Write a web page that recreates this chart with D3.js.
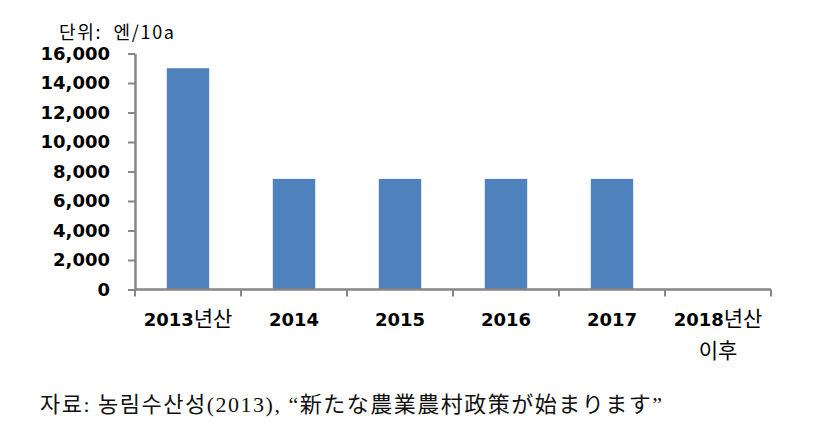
<!DOCTYPE html>
<html><head><meta charset="utf-8">
<script src="https://cdn.jsdelivr.net/npm/d3@7/dist/d3.min.js"></script>
<style>
html,body{margin:0;padding:0;background:#fff;}
svg{display:block;}
</style>
</head><body>
<svg id="chart" width="820" height="426"></svg>
<script>
const categories = ["2013", "2014", "2015", "2016", "2017", "2018"];
const categorySuffix = ["년산", "", "", "", "", "년산"];
const categorySecondLine = ["", "", "", "", "", "이후"];
const values = [15000, 7500, 7500, 7500, 7500, 0];
const yTicks = [0, 2000, 4000, 6000, 8000, 10000, 12000, 14000, 16000];
const unitLabel = "단위:  엔/10a";
const sourceLabel = "자료: 농림수산성(2013), “新たな農業農村政策が始まります”";

const svg = d3.select("#chart");
const axisColor = "#868686";
const barColor = "#4F81BD";

const x = d3.scaleBand().domain(categories).range([135, 771]).paddingInner(0.6).paddingOuter(0.3);
const y = d3.scaleLinear().domain([0, 16000]).range([289.5, 53.5]);

// bars
svg.append("g").selectAll("rect").data(values).join("rect")
  .attr("x", (d, i) => x(categories[i]))
  .attr("width", x.bandwidth())
  .attr("y", d => y(d))
  .attr("height", d => y(0) - y(d))
  .attr("fill", barColor);

// y axis
const yAxis = svg.append("g").attr("transform", "translate(135,0)")
  .call(d3.axisLeft(y).tickValues(yTicks).tickFormat(d3.format(",")).tickSize(7).tickSizeOuter(0).tickPadding(18));
yAxis.select(".domain").attr("stroke", axisColor).attr("stroke-width", 2.5);
yAxis.selectAll(".tick line").attr("stroke", axisColor).attr("stroke-width", 2);
yAxis.selectAll(".tick text").attr("fill", "#000")
  .style("font-family", "'DejaVu Sans', Verdana, sans-serif").style("font-weight", "bold").style("font-size", "18px");

// x axis (category boundaries)
const step = x.step();
const left = x.range()[0];
const boundaries = d3.range(categories.length + 1).map(i => left + i * step);
const xg = svg.append("g");
xg.append("line").attr("x1", left).attr("x2", x.range()[1]).attr("y1", y(0)).attr("y2", y(0))
  .attr("stroke", axisColor).attr("stroke-width", 2.5);
xg.selectAll("line.tick").data(boundaries).join("line").attr("class", "tick")
  .attr("x1", d => d).attr("x2", d => d).attr("y1", y(0)).attr("y2", y(0) + 7)
  .attr("stroke", axisColor).attr("stroke-width", 2);

const labels = xg.selectAll("text.cat").data(categories).join("text").attr("class", "cat")
  .attr("x", d => x(d) + x.bandwidth() / 2)
  .attr("y", 326)
  .attr("text-anchor", "middle")
  .attr("fill", "#000");
labels.append("tspan").text(d => d)
  .style("font-family", "'DejaVu Sans', Verdana, sans-serif").style("font-weight", "bold").style("font-size", "18px");
labels.append("tspan").text((d, i) => categorySuffix[i])
  .style("font-family", "'Noto Sans CJK KR', sans-serif").style("font-weight", "normal").style("font-size", "21px");
xg.selectAll("text.cat2").data(categories).join("text").attr("class", "cat2")
  .attr("x", d => x(d) + x.bandwidth() / 2)
  .attr("y", 358)
  .attr("text-anchor", "middle")
  .attr("fill", "#000")
  .style("font-family", "'Noto Sans CJK KR', sans-serif").style("font-size", "21px")
  .text((d, i) => categorySecondLine[i]);

// unit label
svg.append("text").attr("x", 59).attr("y", 39)
  .attr("fill", "#000")
  .attr("textLength", 115).attr("lengthAdjust", "spacing")
  .style("font-family", "'Noto Sans CJK KR', sans-serif").style("font-size", "18px")
  .style("white-space", "pre").attr("xml:space", "preserve")
  .text(unitLabel);

// source
svg.append("text").attr("x", 40).attr("y", 412)
  .attr("fill", "#111")
  .attr("textLength", 622).attr("lengthAdjust", "spacing")
  .style("font-family", "'Liberation Serif', 'Noto Sans CJK KR', serif").style("font-size", "22px")
  .text(sourceLabel);
</script>
</body></html>
